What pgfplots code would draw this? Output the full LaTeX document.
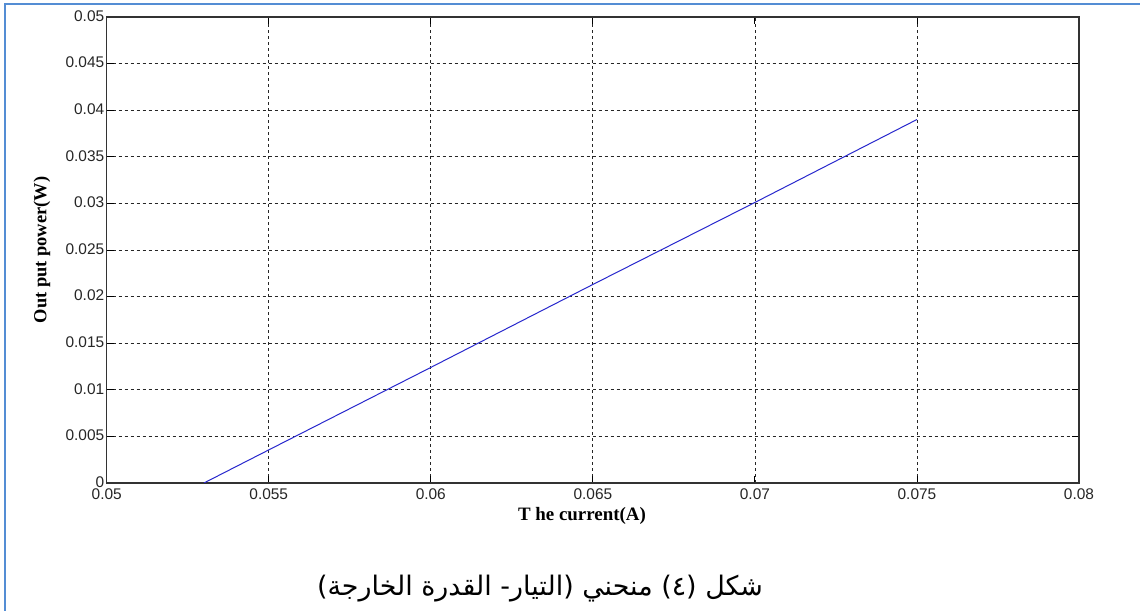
\documentclass[border=0pt]{standalone}
\usepackage{fontspec}
\usepackage{pgfplots}
\pgfplotsset{compat=1.18}
\setmainfont{Liberation Serif}
\newfontfamily\arial{Liberation Sans}
\newfontfamily\arabicfont[Script=Arabic]{DejaVu Sans}
\TeXXeTstate=1
\definecolor{frameblue}{RGB}{84,141,212}
\definecolor{lineblue}{RGB}{40,40,205}
\begin{document}
\begin{tikzpicture}[x=1bp,y=1bp]
\path[use as bounding box] (0,0) rectangle (1140,611);
\fill[white] (0,0) rectangle (1140,611);
\draw[frameblue, line width=2.5bp] (5,0) -- (5,607) -- (1140,607);
\begin{axis}[
  at={(106.7bp,128bp)}, anchor=south west,
  scale only axis, width=972.3bp, height=466bp,
  xmin=0.05, xmax=0.08, ymin=0, ymax=0.05,
  xtick={0.05,0.055,...,0.0801}, ytick={0,0.005,...,0.0501},
  scaled ticks=false,
  /pgf/number format/fixed, /pgf/number format/precision=3,
  /pgf/number format/assume math mode=true,
  ticklabel style={font=\arial\fontsize{15.5}{15.5}\selectfont, text=black!85},
  xticklabel style={yshift=-2.5bp},
  yticklabel style={xshift=1bp, yshift=1bp},
  tick align=inside, major tick length=7bp,
  tick style={black, line width=0.9bp},
  axis line style={black!80, line width=1.2bp},
  grid=major,
  major grid style={black!85, line width=0.8bp, dash pattern=on 3bp off 3bp},
]
\addplot[lineblue, line width=1bp] coordinates {
(0.053,0) (0.055,0.00355) (0.06,0.0124) (0.065,0.0213) (0.07,0.0301) (0.075,0.039)
};
\end{axis}
\node[font=\fontsize{19}{19}\selectfont\bfseries] at (582,611-516) {T he current(A)};
\node[font=\fontsize{18.5}{18.5}\selectfont\bfseries, rotate=90] at (42,611-250) {Out put power(W)};
\node[font=\arabicfont\fontsize{27}{27}\selectfont] at (540,611-589) {\beginR شكل (٤) منحني (التيار- القدرة الخارجة)\endR};
\end{tikzpicture}
\end{document}
